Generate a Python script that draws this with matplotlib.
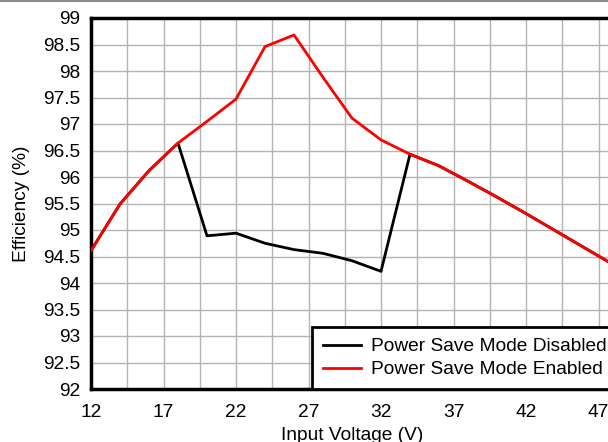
import numpy as np
import matplotlib.pyplot as plt
from matplotlib.lines import Line2D

plt.rcParams['font.family'] = ['Liberation Sans', 'DejaVu Sans']

# input voltage (V)
vin = [12, 14, 16, 18, 20, 22, 24, 26, 28, 30, 32, 34, 36, 38, 40, 42, 44, 46, 48]
# efficiency (%)
eff_disabled = [94.61, 95.49, 96.12, 96.64, 94.89, 94.94, 94.75, 94.63, 94.56, 94.42, 94.22,
                96.43, 96.21, 95.92, 95.62, 95.31, 94.99, 94.67, 94.35]
eff_enabled = [94.61, 95.49, 96.12, 96.64, 97.05, 97.47, 98.46, 98.68, 97.88, 97.11, 96.70,
               96.43, 96.21, 95.92, 95.62, 95.31, 94.99, 94.67, 94.35]

x_ticks = [12, 17, 22, 27, 32, 37, 42, 47]
y_ticks = [92, 92.5, 93, 93.5, 94, 94.5, 95, 95.5, 96, 96.5, 97, 97.5, 98, 98.5, 99]

W, H = 608, 442
FS = 13.8
fig = plt.figure(figsize=(W / 100, H / 100), dpi=100)
# axes runs a bit past the right edge
ax = fig.add_axes([91 / W, (H - 389) / H, (613 - 91) / W, (389 - 18) / H])

ax.plot(vin, eff_disabled, color='black', lw=2, label='Power Save Mode Disabled', zorder=3)
ax.plot(vin, eff_enabled, color='#ff0000', lw=2, label='Power Save Mode Enabled', zorder=4)

ax.set_xlim(12, 48)
ax.set_ylim(92, 99)
ax.set_xticks(x_ticks)
ax.set_xticks(np.arange(12, 48.1, 2.5), minor=True)
ax.set_yticks(y_ticks)
ax.set_yticklabels([f'{v:g}' for v in y_ticks])
ax.grid(True, which='both', color='#b4b4b4', lw=1)
ax.set_axisbelow(True)

ax.tick_params(axis='both', which='both', length=0, labelsize=FS)
ax.tick_params(axis='y', pad=8)
ax.tick_params(axis='x', pad=11)
for s in ax.spines.values():
    s.set_linewidth(2.5)
    s.set_color('black')

ax.set_xlabel('Input Voltage (V)', fontsize=FS, labelpad=4)
ax.set_ylabel('Efficiency (%)', fontsize=FS, labelpad=9)

leg = ax.legend(loc='lower left', bbox_to_anchor=((312 - 91) / (613 - 91), 0),
                fontsize=FS, frameon=True, fancybox=False, edgecolor='black',
                borderaxespad=0, handlelength=2.0, handletextpad=0.55,
                labelspacing=0.3, borderpad=0.55)
leg.get_frame().set_linewidth(2)
leg.get_frame().set_alpha(1)

# thin grey rule along the top
fig.add_artist(Line2D([0, 1], [0.998, 0.998], color='#8c8c8c', lw=1.5,
                      transform=fig.transFigure))

fig.savefig('out.png', dpi=100)
